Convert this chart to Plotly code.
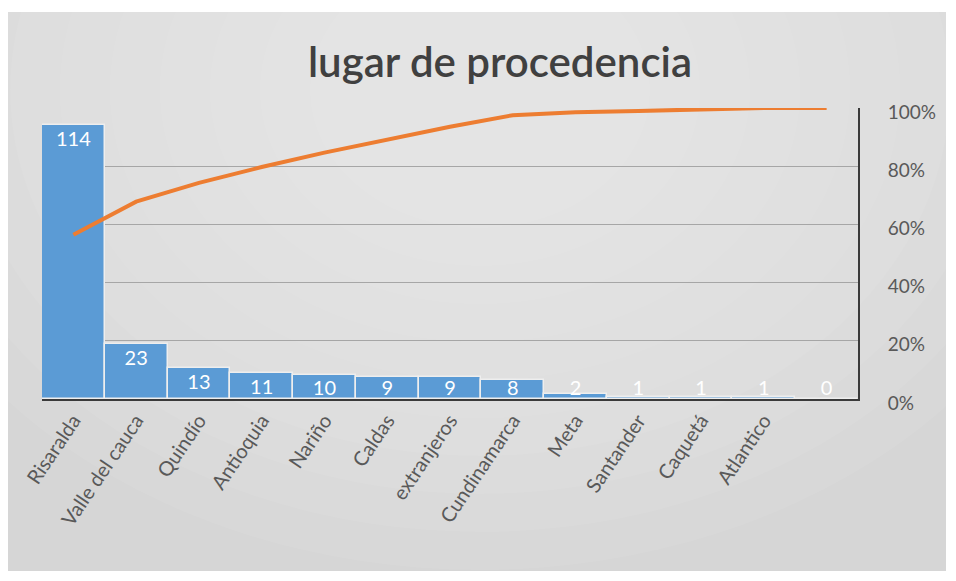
import plotly.graph_objects as go

categories = ["Risaralda", "Valle del cauca", "Quindío", "Antioquia", "Nariño", "Caldas",
              "extranjeros", "Cundinamarca", "Meta", "Santander", "Caquetá", "Atlantico", " "]
values = [114, 23, 13, 11, 10, 9, 9, 8, 2, 1, 1, 1, 0]
pct_ticks = [0, 20, 40, 60, 80, 100]
pct_labels = ["0%", "20%", "40%", "60%", "80%", "100%"]

total = sum(values)
cum = []
s = 0
for v in values:
    s += v
    cum.append(100.0 * s / total)

OFF = 8  # page body margin
W, H = 956 - OFF, 581 - OFF
L, T = 42 - OFF, 108 - OFF
pw, ph = 816, 291
R = W - L - pw
B = H - T - ph

def px(x):  # reference pixel x -> paper coord
    return (x - OFF - L) / pw

def py(y):  # reference pixel y -> paper coord
    return (T + OFF + ph - y) / ph

fig = go.Figure()
fig.add_trace(go.Bar(
    x=categories, y=values, marker=dict(color="#5b9bd5", line=dict(color="#eeeeee", width=1.5)),
    hoverinfo="x+y", showlegend=False,
))
fig.add_trace(go.Scatter(
    x=categories, y=[max(v - 2.6, 8.0) for v in values], mode="text",
    text=[str(v) for v in values], textposition="bottom center",
    textfont=dict(color="white", size=20, family="Lato, Open Sans, sans-serif"),
    showlegend=False, hoverinfo="skip",
))
fig.add_trace(go.Scatter(
    x=categories, y=cum, yaxis="y2", mode="lines",
    line=dict(color="#ed7d31", width=4), showlegend=False,
))

shapes = [
    dict(type="rect", xref="paper", yref="paper", x0=px(5), x1=px(946), y0=py(571), y1=py(12),
         fillcolor="#d6d6d6", line=dict(width=0), layer="below"),
]
for i in range(10):
    rx = 620 - i * 50
    ry = 480 - i * 38
    cx, cy = 480, 90
    shapes.append(dict(type="circle", xref="paper", yref="paper",
                       x0=px(cx - rx), x1=px(cx + rx),
                       y0=py(cy + ry), y1=py(cy - ry),
                       fillcolor="rgba(255,255,255,0.06)", line=dict(width=0), layer="below"))
# mask the area outside the chart frame
shapes.append(dict(type="rect", xref="paper", yref="paper", x0=px(-200), x1=px(1200), y0=py(12), y1=py(-400),
                   fillcolor="white", line=dict(width=0), layer="below"))
shapes.append(dict(type="rect", xref="paper", yref="paper", x0=px(-200), x1=px(5), y0=py(900), y1=py(-400),
                   fillcolor="white", line=dict(width=0), layer="below"))
shapes.append(dict(type="rect", xref="paper", yref="paper", x0=px(946), x1=px(1200), y0=py(900), y1=py(-400),
                   fillcolor="white", line=dict(width=0), layer="below"))
shapes.append(dict(type="rect", xref="paper", yref="paper", x0=px(-200), x1=px(1200), y0=py(900), y1=py(571),
                   fillcolor="white", line=dict(width=0), layer="below"))

fig.update_layout(
    width=W, height=H,
    margin=dict(l=L, r=R, t=T, b=B, pad=0, autoexpand=False),
    paper_bgcolor="white", plot_bgcolor="rgba(0,0,0,0)",
    bargap=0,
    title=dict(text="lugar de procedencia", x=px(500), xanchor="center", xref="paper",
               y=1 - (62 - OFF) / H, yanchor="middle",
               font=dict(size=42, color="#404040", family="Lato, Open Sans, sans-serif", weight=600)),
    xaxis=dict(type="category", range=[-0.5, len(categories) - 0.5], tickangle=-56, showgrid=False,
               showline=True, linecolor="#3a3a3a", linewidth=2, ticks="", automargin=False,
               tickfont=dict(size=20, color="#595959", family="Lato, Open Sans, sans-serif")),
    yaxis=dict(range=[0, 121], visible=False, showgrid=False, automargin=False),
    yaxis2=dict(overlaying="y", side="right", range=[0, 100], tickvals=pct_ticks, ticktext=pct_labels,
                showgrid=True, gridcolor="#a6a6a6", gridwidth=1, showline=True, linecolor="#3a3a3a",
                linewidth=2, ticks="", ticklabelstandoff=24, ticklabelshift=4, automargin=False,
                tickfont=dict(size=19, color="#595959", family="Lato, Open Sans, sans-serif"), zeroline=False),
    shapes=shapes,
)

fig.write_html("out.html")
